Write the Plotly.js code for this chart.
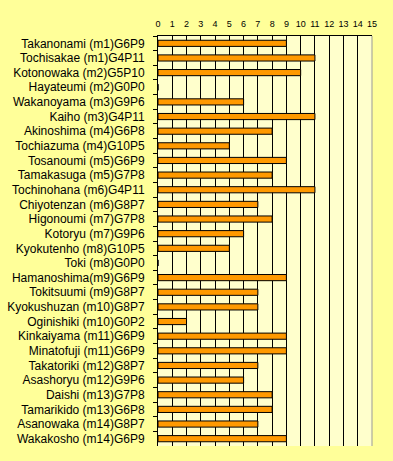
<!DOCTYPE html>
<html>
<head>
<meta charset="utf-8">
<script src="https://cdn.plot.ly/plotly-3.0.1.min.js"></script>
<style>html,body{margin:0;padding:0;background:#FFFF99;}#chart{width:393px;height:461px;}</style>
</head>
<body>
<div id="chart"></div>
<script>
var wrestlers = [
  "Takanonami (m1)G6P9","Tochisakae (m1)G4P11","Kotonowaka (m2)G5P10","Hayateumi (m2)G0P0",
  "Wakanoyama (m3)G9P6","Kaiho (m3)G4P11","Akinoshima (m4)G6P8","Tochiazuma (m4)G10P5",
  "Tosanoumi (m5)G6P9","Tamakasuga (m5)G7P8","Tochinohana (m6)G4P11","Chiyotenzan (m6)G8P7",
  "Higonoumi (m7)G7P8","Kotoryu (m7)G9P6","Kyokutenho (m8)G10P5","Toki (m8)G0P0",
  "Hamanoshima(m9)G6P9","Tokitsuumi (m9)G8P7","Kyokushuzan (m10)G8P7","Oginishiki (m10)G0P2",
  "Kinkaiyama (m11)G6P9","Minatofuji (m11)G6P9","Takatoriki (m12)G8P7","Asashoryu (m12)G9P6",
  "Daishi (m13)G7P8","Tamarikido (m13)G6P8","Asanowaka (m14)G8P7","Wakakosho (m14)G6P9"
];
var points = [9,11,10,0,6,11,8,5,9,8,11,7,8,6,5,0,9,7,7,2,9,9,7,6,8,8,7,9];
var xTicks = [0,1,2,3,4,5,6,7,8,9,10,11,12,13,14,15];

var trace = {
  type: 'bar',
  orientation: 'h',
  y: wrestlers,
  x: points,
  marker: {color: '#FF9900', line: {color: '#000000', width: 1}},
  hoverinfo: 'x+y'
};

var layout = {
  width: 393, height: 461,
  margin: {l: 158, r: 21, t: 36, b: 15, pad: 0},
  paper_bgcolor: '#FFFF99',
  plot_bgcolor: '#FFFFCC',
  bargap: 0.58,
  showlegend: false,
  font: {family: 'Liberation Sans, Arial, sans-serif', color: '#000000'},
  xaxis: {
    side: 'top',
    range: [0, 15],
    tickvals: xTicks,
    ticktext: xTicks.map(String),
    tickfont: {size: 9, color: '#000000'},
    ticklabelstandoff: 4,
    showgrid: true, gridcolor: '#000000', gridwidth: 1,
    showline: true, linecolor: '#000000', linewidth: 1,
    ticks: 'outside', ticklen: 0,
    zeroline: false,
    fixedrange: true
  },
  yaxis: {
    type: 'category',
    autorange: 'reversed',
    tickson: 'boundaries',
    ticks: 'outside', ticklen: 4, tickcolor: '#000000',
    tickfont: {size: 12, color: '#000000'},
    ticklabelstandoff: 10,
    showline: true, linecolor: '#000000', linewidth: 1,
    showgrid: false, zeroline: false,
    fixedrange: true
  },
  shapes: [
    {type: 'line', xref: 'paper', yref: 'paper', x0: 1, x1: 1, y0: 0, y1: 1,
     line: {color: '#999999', width: 1}}
  ]
};

Plotly.newPlot('chart', [trace], layout, {displayModeBar: false, staticPlot: true});
</script>
</body>
</html>
